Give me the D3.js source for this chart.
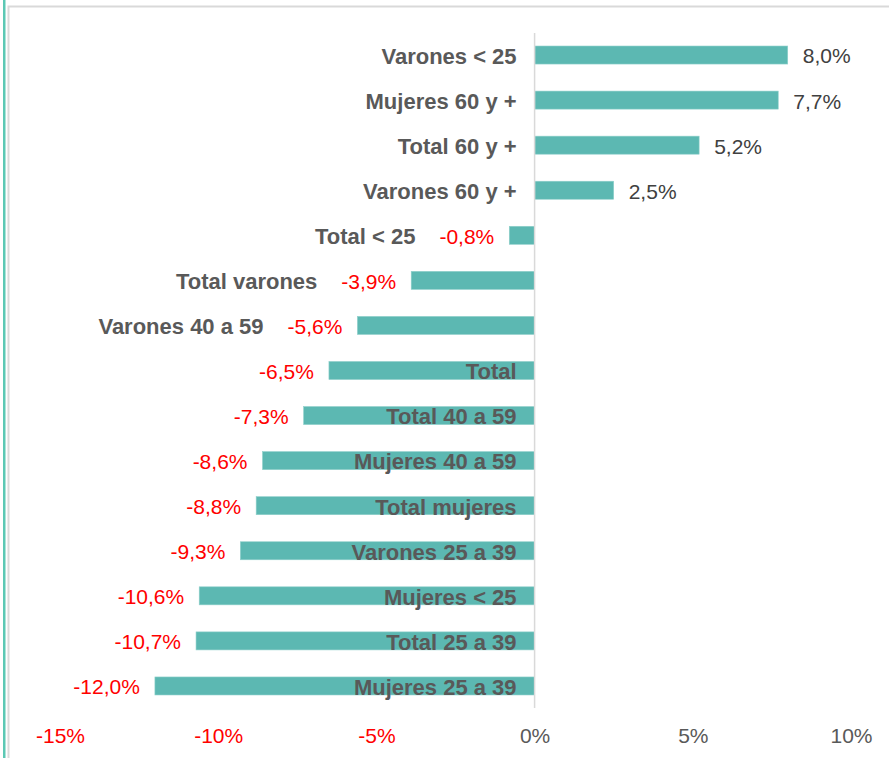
<!DOCTYPE html>
<html>
<head>
<meta charset="utf-8">
<script src="https://cdn.jsdelivr.net/npm/d3@7"></script>
<style>
  html, body { margin: 0; padding: 0; background: #fff; }
  svg { display: block; font-family: "Liberation Sans", Arial, sans-serif; }
</style>
</head>
<body>
<div id="container"></div>
<script>
var categories = [
  'Varones < 25', 'Mujeres 60 y +', 'Total 60 y +', 'Varones 60 y +',
  'Total < 25', 'Total varones', 'Varones 40 a 59', 'Total',
  'Total 40 a 59', 'Mujeres 40 a 59', 'Total mujeres', 'Varones 25 a 39',
  'Mujeres < 25', 'Total 25 a 39', 'Mujeres 25 a 39'
];
var values = [8.0, 7.7, 5.2, 2.5, -0.8, -3.9, -5.6, -6.5, -7.3, -8.6, -8.8, -9.3, -10.6, -10.7, -12.0];
var ticks = [-15, -10, -5, 0, 5, 10];

var width = 889, height = 758;
var svg = d3.select('#container').append('svg')
  .attr('width', width).attr('height', height);

// frame
svg.append('rect').attr('x', 3).attr('y', 0).attr('width', 2.5).attr('height', height)
  .attr('fill', '#5cc8b4');
svg.append('path').attr('d', 'M8.5,' + height + ' V6.5 H' + width)
  .attr('fill', 'none').attr('stroke', '#d9d9d9').attr('stroke-width', 2);

var x = d3.scaleLinear().domain([-15, 10]).range([60, 851]);
var y = d3.scaleBand().domain(categories).range([32.5, 708.5]).paddingInner(0.6).paddingOuter(0.3);

var data = categories.map(function(c, i) { return { cat: c, v: values[i] }; });

// bars
svg.selectAll('rect.bar').data(data).enter().append('rect')
  .attr('class', 'bar')
  .attr('x', function(d) { return x(Math.min(0, d.v)); })
  .attr('y', function(d) { return y(d.cat); })
  .attr('width', function(d) { return Math.abs(x(d.v) - x(0)); })
  .attr('height', y.bandwidth())
  .attr('fill', '#5cb8b2')
  .attr('stroke', '#8fd0cb').attr('stroke-width', 0.6);

// zero line
svg.append('line')
  .attr('x1', x(0)).attr('x2', x(0)).attr('y1', 33).attr('y2', 708)
  .attr('stroke', '#d9d9d9').attr('stroke-width', 1.5);

var fmt = function(v) { return v.toFixed(1).replace('.', ',') + '%'; };

// value labels
var vlab = svg.selectAll('text.val').data(data).enter().append('text')
  .attr('class', 'val')
  .attr('x', function(d) { return d.v < 0 ? x(d.v) - 15 : x(d.v) + 15; })
  .attr('y', function(d) { return y(d.cat) + y.bandwidth() / 2; })
  .attr('dy', '0.4em')
  .attr('text-anchor', function(d) { return d.v < 0 ? 'end' : 'start'; })
  .attr('font-size', 21)
  .attr('fill', function(d) { return d.v < 0 ? '#ff0000' : '#404040'; })
  .text(function(d) { return fmt(d.v); });

var vw = {};
vlab.each(function(d) { vw[d.cat] = this.getComputedTextLength(); });

// category labels
svg.selectAll('text.cat').data(data).enter().append('text')
  .attr('class', 'cat')
  .attr('x', function(d) {
    if (d.v < 0 && d.v > -6) return x(d.v) - 15 - vw[d.cat] - 24;
    return x(0) - 18;
  })
  .attr('y', function(d) { return y(d.cat) + y.bandwidth() / 2; })
  .attr('dy', '0.4em')
  .attr('text-anchor', 'end')
  .attr('font-size', 22)
  .attr('font-weight', 'bold')
  .attr('fill', '#595959')
  .text(function(d) { return d.cat; });

// x axis labels
var axis = d3.axisBottom(x).tickValues(ticks).tickSize(0)
  .tickFormat(function(d) { return d + '%'; });
var ax = svg.append('g').attr('transform', 'translate(0,728)').call(axis);
ax.select('.domain').remove();
ax.selectAll('text')
  .attr('font-size', 21)
  .attr('font-family', '"Liberation Sans", Arial, sans-serif')
  .attr('dy', '0.71em')
  .attr('y', 0)
  .attr('fill', function(d) { return d < 0 ? '#ff0000' : '#595959'; });
</script>
</body>
</html>
